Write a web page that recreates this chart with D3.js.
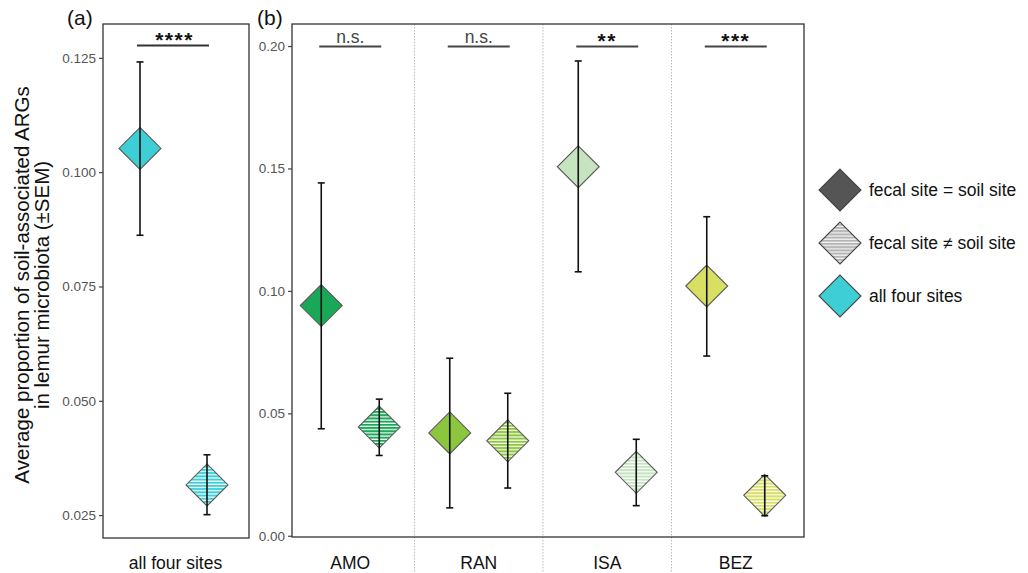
<!DOCTYPE html>
<html>
<head>
<meta charset="utf-8">
<script src="https://cdn.jsdelivr.net/npm/d3@7"></script>
<style>
  body { margin: 0; background: #fff; }
  svg { display: block; font-family: "Liberation Sans", Arial, Helvetica, sans-serif; }
</style>
</head>
<body>
<svg id="chart" width="1028" height="573"></svg>
<script>
// ---- data ----
const sitesB = ["AMO", "RAN", "ISA", "BEZ"];
const groups = ["same", "diff"];               // fecal site = soil site / fecal site ≠ soil site
const siteColors = ["#1aa858", "#8cc63e", "#c6e4c0", "#d8df63"];
const meanSame = [0.0940, 0.0420, 0.1507, 0.1020];
const lowSame  = [0.0437, 0.0114, 0.1078, 0.0734];
const highSame = [0.1441, 0.0725, 0.1939, 0.1303];
const meanDiff = [0.0444, 0.0388, 0.0259, 0.0165];
const lowDiff  = [0.0328, 0.0195, 0.0123, 0.0082];
const highDiff = [0.0558, 0.0582, 0.0394, 0.0245];
const sigB = ["n.s.", "n.s.", "**", "***"];

const catA = ["all four sites"];
const colorA = "#3ecfd6";
const meanA = [0.1052, 0.0316];
const lowA  = [0.0862, 0.0251];
const highA = [0.1241, 0.0382];
const sigA = "****";

const ticksA = [0.025, 0.050, 0.075, 0.100, 0.125];
const ticksB = [0.00, 0.05, 0.10, 0.15, 0.20];

const legendLabels = ["fecal site = soil site", "fecal site \u2260 soil site", "all four sites"];
const legendFills = ["#555555", "stripe-legend", colorA];

// ---- layout ----
const svg = d3.select("#chart");
const A = { left: 103, right: 249, top: 24, bottom: 538 };
const B = { left: 292, right: 804, top: 24, bottom: 537 };

const yA = d3.scaleLinear().domain([0.0200, 0.1324]).range([A.bottom, A.top]);
const yB = d3.scaleLinear().domain([-0.0005, 0.2090]).range([B.bottom, B.top]);
const xA = d3.scaleBand().domain(catA).range([100, 247]);
const xB = d3.scaleBand().domain(sitesB).range([286, 800]);
const dodgeA = d3.scaleBand().domain(groups).range([-67, 67]).paddingInner(0);
const dodgeB = d3.scaleBand().domain(groups).range([-58, 58]).paddingInner(0);

// ---- stripe patterns (horizontal) ----
const defs = svg.append("defs");
function stripe(id, color, bg) {
  const p = defs.append("pattern").attr("id", id)
    .attr("patternUnits", "userSpaceOnUse").attr("width", 8).attr("height", 3.2);
  p.append("rect").attr("width", 8).attr("height", 3.2).attr("fill", bg || "#fff");
  p.append("rect").attr("width", 8).attr("height", 2).attr("fill", color);
}
siteColors.forEach((c, i) => stripe("stripe-" + i, c));
stripe("stripe-a", colorA);
stripe("stripe-legend", "#b5b5b5", "#f4f4f4");

// upright diamond symbol (square turned on its point), no element rotation
const diamondType = {
  draw(ctx, size) {
    const r = Math.sqrt(size / 2);
    ctx.moveTo(0, -r); ctx.lineTo(r, 0); ctx.lineTo(0, r); ctx.lineTo(-r, 0); ctx.closePath();
  }
};
const diamond = d3.symbol().type(diamondType).size(880);

function drawPoint(g, x, y, lo, hi, fill, yScale) {
  g.append("path").attr("d", diamond())
    .attr("transform", `translate(${x},${yScale(y)})`)
    .attr("fill", fill).attr("stroke", "#5a5a5a").attr("stroke-width", 1.1);
  g.append("line").attr("x1", x).attr("x2", x)
    .attr("y1", yScale(lo)).attr("y2", yScale(hi))
    .attr("stroke", "#111").attr("stroke-width", 1.6);
  [lo, hi].forEach(v => g.append("line")
    .attr("x1", x - 3.5).attr("x2", x + 3.5)
    .attr("y1", yScale(v)).attr("y2", yScale(v))
    .attr("stroke", "#111").attr("stroke-width", 1.6));
}

function yAxis(scale, ticks, fmt, x) {
  const g = svg.append("g").attr("transform", `translate(${x},0)`)
    .call(d3.axisLeft(scale).tickValues(ticks).tickFormat(d3.format(fmt)).tickSize(4).tickPadding(3));
  g.select(".domain").remove();
  g.selectAll(".tick line").attr("stroke", "#444").attr("stroke-width", 1.2);
  g.selectAll(".tick text").attr("fill", "#555").attr("font-size", 13.5)
    .attr("font-family", "Liberation Sans, Arial, sans-serif");
}

function stars(g, x, y, label) {
  g.append("text").attr("x", x).attr("y", y).attr("text-anchor", "middle")
    .attr("font-size", 21).attr("font-weight", "bold").attr("letter-spacing", 1.5)
    .attr("fill", "#111").text(label);
}

// ---- panel (a) ----
const gA = svg.append("g");
yAxis(yA, ticksA, ".3f", A.left);
const cxA = xA(catA[0]) + xA.bandwidth() / 2;
const xsA = groups.map(g => cxA + dodgeA(g) + dodgeA.bandwidth() / 2);
drawPoint(gA, xsA[0], meanA[0], lowA[0], highA[0], colorA, yA);
drawPoint(gA, xsA[1], meanA[1], lowA[1], highA[1], "url(#stripe-a)", yA);
gA.append("rect").attr("x", A.left).attr("y", A.top)
  .attr("width", A.right - A.left).attr("height", A.bottom - A.top)
  .attr("fill", "none").attr("stroke", "#333").attr("stroke-width", 1.3);
gA.append("line").attr("x1", xsA[0] - 3).attr("x2", xsA[1] + 2)
  .attr("y1", 45.5).attr("y2", 45.5).attr("stroke", "#333").attr("stroke-width", 2);
stars(gA, cxA + 1, 47, sigA);
svg.append("text").attr("x", cxA + 2).attr("y", 569).attr("text-anchor", "middle")
  .attr("font-size", 17.5).attr("fill", "#111").text(catA[0]);
svg.append("text").attr("x", 67).attr("y", 25).attr("font-size", 21).attr("fill", "#111").text("(a)");

// ---- panel (b) ----
const gB = svg.append("g");
yAxis(yB, ticksB, ".2f", B.left);
// dotted separators between sites (run down through the label strip)
sitesB.slice(1).forEach(s => {
  const x = xB(s);
  gB.append("line").attr("x1", x).attr("x2", x).attr("y1", B.top).attr("y2", 573)
    .attr("stroke", "#bbb").attr("stroke-width", 1).attr("stroke-dasharray", "1.5,1.5");
});
sitesB.forEach((s, i) => {
  const c = xB(s) + xB.bandwidth() / 2;
  const x0 = c + dodgeB("same") + dodgeB.bandwidth() / 2;
  const x1 = c + dodgeB("diff") + dodgeB.bandwidth() / 2;
  drawPoint(gB, x0, meanSame[i], lowSame[i], highSame[i], siteColors[i], yB);
  drawPoint(gB, x1, meanDiff[i], lowDiff[i], highDiff[i], `url(#stripe-${i})`, yB);
  gB.append("line").attr("x1", x0 - 2).attr("x2", x1 + 2)
    .attr("y1", 46.5).attr("y2", 46.5).attr("stroke", "#444").attr("stroke-width", 2);
  if (sigB[i] === "n.s.") {
    gB.append("text").attr("x", c).attr("y", 43).attr("text-anchor", "middle")
      .attr("font-size", 17.5).attr("fill", "#444").text(sigB[i]);
  } else {
    stars(gB, c, 48, sigB[i]);
  }
  svg.append("text").attr("x", c).attr("y", 569).attr("text-anchor", "middle")
    .attr("font-size", 17.5).attr("fill", "#111").text(s);
});
gB.append("rect").attr("x", B.left).attr("y", B.top)
  .attr("width", B.right - B.left).attr("height", B.bottom - B.top)
  .attr("fill", "none").attr("stroke", "#333").attr("stroke-width", 1.3);
svg.append("text").attr("x", 257).attr("y", 25).attr("font-size", 21).attr("fill", "#111").text("(b)");

// ---- y title ----
const yt = svg.append("text").attr("transform", "translate(0,285) rotate(-90)")
  .attr("text-anchor", "middle").attr("font-size", 20.5).attr("fill", "#111");
yt.append("tspan").attr("x", 0).attr("y", 29).text("Average proportion of soil-associated ARGs");
yt.append("tspan").attr("x", 0).attr("y", 49).text("in lemur microbiota (\u00b1SEM)");

// ---- legend ----
const lg = svg.append("g");
legendLabels.forEach((lab, i) => {
  const y = 190 + i * 53;
  const fill = legendFills[i].startsWith("stripe") ? `url(#${legendFills[i]})` : legendFills[i];
  lg.append("path").attr("d", diamond())
    .attr("transform", `translate(840,${y})`)
    .attr("fill", fill).attr("stroke", "#444").attr("stroke-width", 1.1);
  lg.append("text").attr("x", 869).attr("y", y + 6).attr("font-size", 17.5)
    .attr("fill", "#111").text(lab);
});
</script>
</body>
</html>
